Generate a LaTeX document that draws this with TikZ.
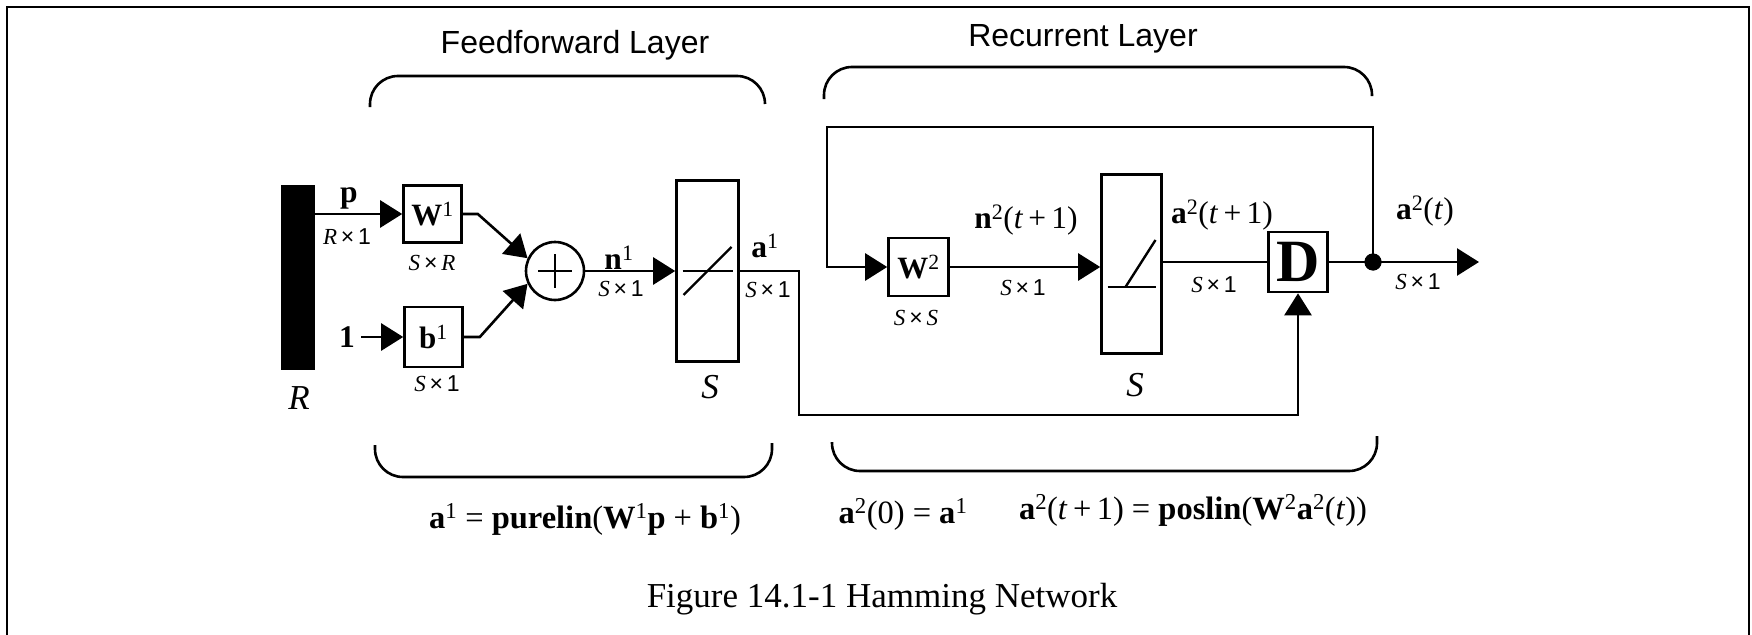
\documentclass[tikz,border=0pt]{standalone}
\usepackage{fontspec}
\setmainfont{Liberation Serif}
\newfontfamily\sansf{Liberation Sans}
\usetikzlibrary{arrows.meta,calc}
\newcommand{\mul}{{\sansf\,×\,}}
\newcommand{\sone}{{\sansf 1}}
\begin{document}
\begin{tikzpicture}[x=1pt,y=-1pt,
  ln/.style={line width=2.6pt},
  arr/.style={line width=2.6pt,-{Triangle[length=22pt,width=27pt]}},
  sbox/.style={draw,line width=2.6pt,inner sep=0pt},
  lab/.style={font=\fontsize{31.5pt}{34pt}\selectfont,inner sep=0pt},
  blab/.style={font=\fontsize{31pt}{34pt}\selectfont,inner sep=0pt},
  dim/.style={font=\fontsize{23pt}{26pt}\selectfont,inner sep=0pt},
  big/.style={font=\fontsize{35pt}{40pt}\selectfont\itshape,inner sep=0pt},
  ttl/.style={font=\sansf\fontsize{32pt}{36pt}\selectfont,inner sep=0pt,anchor=base},
  eq/.style={font=\fontsize{32.5pt}{36pt}\selectfont,inner sep=0pt,anchor=base},
  brk/.style={line width=2.6pt,rounded corners=28pt},
]
\useasboundingbox (0,0) rectangle (1752,634);
% frame
\draw[line width=2.5pt] (7,640) -- (7,7) -- (1749,7) -- (1749,640);

% titles and brackets
\node[ttl] (t1) at (575,53) {Feedforward Layer};
\node[ttl] (t2) at (1083,47) {Recurrent Layer};
\draw[brk] (370,107) -- (370,76) -- (765,76) -- (765,104);
\draw[brk] (824,99) -- (824,67) -- (1372,67) -- (1372,96);
\draw[brk] (375,445) -- (375,477) -- (772,477) -- (772,443);
\draw[brk] (832,442) -- (832,471) -- (1377,471) -- (1377,436);

% blocks
\node[fill=black,minimum width=34pt,minimum height=185pt,inner sep=0pt] (bar) at (298,277.5) {};
\node[sbox,minimum width=58pt,minimum height=57pt,blab] (W1) at (432.5,214) {\textbf{W}\textsuperscript{1}};
\node[sbox,minimum width=58pt,minimum height=60pt,blab] (b1) at (433.5,337) {\textbf{b}\textsuperscript{1}};
\node[draw,circle,line width=2.6pt,minimum size=58pt,inner sep=0pt] (sum) at (555,271) {};
\node[sbox,minimum width=62pt,minimum height=181pt] (T1) at (707.5,271) {};
\node[sbox,minimum width=60pt,minimum height=58pt,blab] (W2) at (918.5,267) {\textbf{W}\textsuperscript{2}};
\node[sbox,minimum width=60pt,minimum height=179pt] (T2) at (1131.5,264) {};
\node[sbox,minimum width=59pt,minimum height=60pt,font=\fontsize{60pt}{64pt}\selectfont\bfseries] (D) at (1298,262) {D};
\node[circle,fill=black,minimum size=17pt,inner sep=0pt] (dot) at (1373,262) {};

% plus sign
\draw[line width=2.6pt] ($(sum.center)+(-17,0)$) -- ($(sum.center)+(17,0)$);
\draw[line width=2.6pt] ($(sum.center)+(0,-17)$) -- ($(sum.center)+(0,17)$);
% purelin
\draw[line width=1.3pt] ($(T1.center)+(-25,0)$) -- ($(T1.center)+(25,0)$);
\draw[line width=2.4pt] ($(T1.center)+(-24,24)$) -- ($(T1.center)+(24,-24)$);
% poslin
\draw[line width=2pt] ($(T2.center)+(-24,23)$) -- ($(T2.center)+(24,23)$);
\draw[line width=2.4pt] ($(T2.center)+(-6,23)$) -- ($(T2.center)+(24,-24)$);

% connectors
\node[lab] (one) at (347,337) {\textbf{1}};
\coordinate (a1r) at (799,415);
\coordinate (fbR) at (1373,127);
\coordinate (fbL) at (827,127);
\coordinate (out) at (1479,262);
\draw[arr] (bar.east |- W1.west) -- (W1.west);
\draw[arr] ([xshift=6pt]one.east) -- (b1.west);
\draw[arr] (W1.east) -- ++(15,0) -- (sum.155);
\draw[arr] (b1.east) -- ++(16,0) -- (sum.205);
\draw[arr] (sum.east) -- (T1.west);
\draw[arr] (T1.east) -| (a1r) -| (D.south);
\draw[arr] (dot.center) -- (fbR) -- (fbL) |- (W2.west);
\draw[arr] (W2.east) -- (W2.east -| T2.west);
\draw[ln] (D.west -| T2.east) -- (D.west);
\draw[arr] (D.east) -- (out);
\node[circle,fill=black,minimum size=17pt,inner sep=0pt] at (dot) {};

% labels
\node[lab] (lp) at (349,198) {\textbf{p}};
\node[dim] (lrx1) at (347,237) {\textit{R}\mul\sone};
\node[dim] (lsxr) at (432,263) {\textit{S}\mul\textit{R}};
\node[dim] (lb1d) at (437,384) {\textit{S}\mul\sone};
\node[big] (lR) at (299,398) {R};
\node[lab] (ln1) at (619,258) {\textbf{n}\textsuperscript{1}};
\node[dim] (ln1d) at (621,289) {\textit{S}\mul\sone};
\node[big] (lS1) at (710,387) {S};
\node[lab] (la1) at (765,246) {\textbf{a}\textsuperscript{1}};
\node[dim] (la1d) at (768,290) {\textit{S}\mul\sone};
\node[dim] (lsxs) at (916,318) {\textit{S}\mul\textit{S}};
\node[lab] (ln2) at (1026,220) {\textbf{n}\textsuperscript{2}(\textit{t}\,+\,1)};
\node[dim] (ln2d) at (1023,288) {\textit{S}\mul\sone};
\node[big] (lS2) at (1135,385) {S};
\node[lab] (la2) at (1222,215) {\textbf{a}\textsuperscript{2}(\textit{t}\,+\,1)};
\node[dim] (la2d) at (1214,285) {\textit{S}\mul\sone};
\node[lab] (la2t) at (1425,211) {\textbf{a}\textsuperscript{2}(\textit{t})};
\node[dim] (la2td) at (1418,282) {\textit{S}\mul\sone};

% equations
\node[eq] (eq1) at (585,528) {\textbf{a}\textsuperscript{1} = \textbf{purelin}(\textbf{W}\textsuperscript{1}\textbf{p} + \textbf{b}\textsuperscript{1})};
\node[eq] (eq2) at (903,523) {\textbf{a}\textsuperscript{2}(0) = \textbf{a}\textsuperscript{1}};
\node[eq] (eq3) at (1193,519) {\textbf{a}\textsuperscript{2}(\textit{t}\,+\,1) = \textbf{poslin}(\textbf{W}\textsuperscript{2}\textbf{a}\textsuperscript{2}(\textit{t}))};

% caption
\node[font=\fontsize{35pt}{40pt}\selectfont,inner sep=0pt,anchor=base] (cap) at (882,607) {Figure 14.1-1 Hamming Network};
\end{tikzpicture}
\end{document}
